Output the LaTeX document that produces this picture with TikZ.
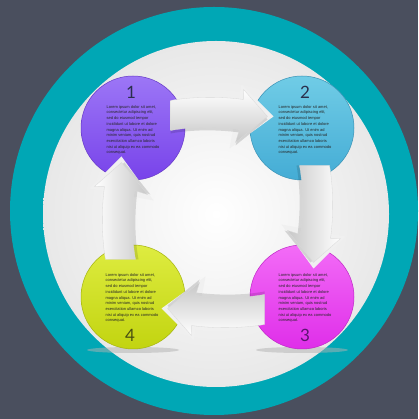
\documentclass[tikz,border=0pt]{standalone}
\usepackage{fontspec}
\setmainfont{Liberation Sans}
\newfontfamily\numfont{Lato}
\definecolor{bgc}{HTML}{4A4F5E}
\definecolor{tealc}{HTML}{00A7B5}
\definecolor{pT}{HTML}{9C76F6}\definecolor{pB}{HTML}{7843EA}
\definecolor{bT}{HTML}{70CCE6}\definecolor{bB}{HTML}{44ACD5}
\definecolor{mT}{HTML}{F36CF7}\definecolor{mB}{HTML}{DF2EE9}
\definecolor{yT}{HTML}{DEEC40}\definecolor{yB}{HTML}{C2D410}
\definecolor{notchc}{HTML}{F0F0F0}
\definecolor{navy}{HTML}{2A2F4C}
\definecolor{plum}{HTML}{5A1470}
\definecolor{darkolive}{HTML}{474E12}
\newcommand\arrowpath{(-47,112) .. controls (-25,116) and (5,116) .. (26,113) -- (26,123) -- (50,96) -- (18,70) -- (22,83) .. controls (0,86) and (-25,86) .. (-47,82) -- cycle}
\newcommand\notchpath{(24,128) -- (56,96) -- (12,64) -- cycle}
\newcommand\loremtext{Lorem ipsum dolor sit amet,\\consectetur adipiscing elit,\\sed do eiusmod tempor\\incididunt ut labore et dolore\\magna aliqua. Ut enim ad\\minim veniam, quis nostrud\\exercitation ullamco laboris\\nisi ut aliquip ex ea commodo\\consequat.}
\begin{document}
\begin{tikzpicture}[x=1pt,y=1pt,
  ball/.style={circle, minimum size=104pt, inner sep=0pt, line width=0.5pt},
  lorem/.style={align=left, font=\fontsize{4}{5.7}\selectfont, text=black!85, inner sep=0pt},
  numlabel/.style={font=\numfont\fontsize{17}{17}\selectfont, inner sep=0pt},
  arrowfill/.style={top color=white, bottom color=black!22, draw=black!15, line width=0.3pt},
  arrowshadow/.style={fill=black, opacity=0.12}]
\useasboundingbox (0,0) rectangle (418,419);
\fill[bgc] (0,0) rectangle (418,419);
\node[circle, fill=tealc, minimum size=408pt, inner sep=0pt] (ring) at (214,208) {};
\node[circle, inner color=white, outer color=black!9, minimum size=346pt, inner sep=0pt] (disc) at (216,205) {};
\coordinate (c) at (217.5,206.5);
% floor shadows
\fill[black!30, opacity=0.5] (133,69) ellipse (46pt and 3pt);
\fill[black!30, opacity=0.5] (302,69) ellipse (46pt and 3pt);
% balls
\node[ball, top color=pT, bottom color=pB, draw=pB!85!black] (b1) at (133,291) {};
\node[ball, top color=bT, bottom color=bB, draw=bB!85!black] (b2) at (302,291) {};
\node[ball, top color=mT, bottom color=mB, draw=mB!85!black] (b3) at (302,122) {};
\node[ball, top color=yT, bottom color=yB, draw=yB!85!black] (b4) at (133,122) {};
% arrows
\foreach \r in {0,-90,-180,-270}{
  \begin{scope}[shift={(c)}, rotate=\r]
    \fill[notchc] \notchpath;
    \fill[arrowshadow] [shift={(0,-3)}] \arrowpath;
    \path[arrowfill, shading angle=\r] \arrowpath;
  \end{scope}
}
% texts
\node[lorem] (t1) at (133,289) {\loremtext};
\node[lorem] (t2) at (305,289) {\loremtext};
\node[lorem] (t3) at (305,121) {\loremtext};
\node[lorem] (t4) at (132,121) {\loremtext};
\node[numlabel, text=navy] (n1) at (131,327) {1};
\node[numlabel, text=navy] (n2) at (305,327) {2};
\node[numlabel, text=plum] (n3) at (305,84) {3};
\node[numlabel, text=darkolive] (n4) at (130,84) {4};
\end{tikzpicture}
\end{document}
